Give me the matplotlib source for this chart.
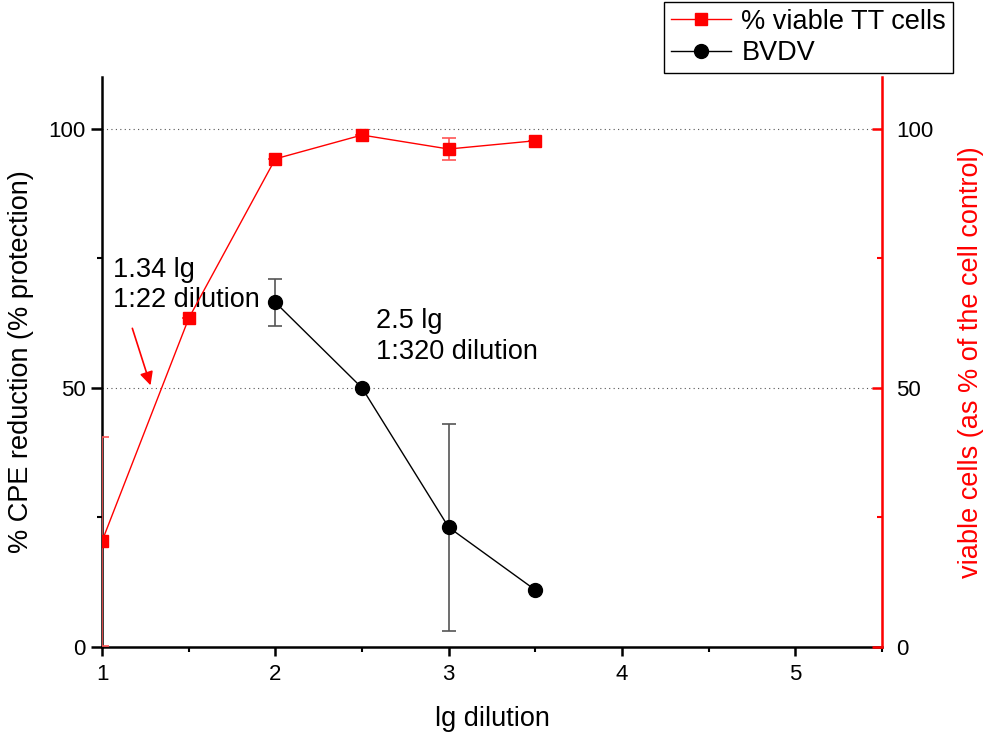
import matplotlib
matplotlib.use("Agg")
import matplotlib.pyplot as plt
from matplotlib.ticker import MultipleLocator
from matplotlib.lines import Line2D

plt.rcParams['font.family'] = ['Liberation Sans', 'DejaVu Sans']

# Data
x_cells = [1.0, 1.5, 2.0, 2.5, 3.0, 3.5]
viable_cells = [20.4, 63.4, 94.2, 98.8, 96.1, 97.7]
viable_err = [20.2, 0.0, 0.0, 0.0, 2.2, 0.0]

x_virus = [2.0, 2.5, 3.0, 3.5]
bvdv = [66.5, 50.0, 23.1, 11.0]
bvdv_err = [4.6, 0.0, 20.0, 0.0]

x_ticks = [1, 2, 3, 4, 5]
y_ticks = [0, 50, 100]

fig = plt.figure(figsize=(9.9, 7.33), dpi=100)
ax = fig.add_axes([102/990, 1-647/733, (882-102)/990, (647-77)/733])
ax2 = ax.twinx()

ax.set_xlim(1, 5.5)
ax.set_ylim(0, 110)
ax2.set_ylim(0, 110)

# grid lines
for g in [50, 100]:
    ax.axhline(g, color='#555555', linestyle=(0, (1, 3)), linewidth=0.8, zorder=0)

ax.errorbar(x_virus, bvdv, yerr=bvdv_err, color='black', marker='o',
            markersize=10, linewidth=1, ecolor='#555555', elinewidth=1.2,
            capsize=5, capthick=1.2, zorder=3)
ax2.errorbar(x_cells, viable_cells, yerr=viable_err, color='red', marker='s',
             markersize=9, linewidth=1, ecolor='#ff5555', elinewidth=1.2,
             capsize=5, capthick=1.2, zorder=3)

# spines
for a in (ax, ax2):
    a.spines['top'].set_visible(False)
ax.spines['left'].set_linewidth(1.8)
ax.spines['bottom'].set_linewidth(1.8)
ax2.spines['right'].set_color('red')
ax2.spines['right'].set_linewidth(1.8)
ax2.spines['left'].set_visible(False)
ax2.spines['bottom'].set_visible(False)

ax.set_xticks(x_ticks)
ax.set_yticks(y_ticks)
ax2.set_yticks(y_ticks)
ax.xaxis.set_minor_locator(MultipleLocator(0.5))
ax.yaxis.set_minor_locator(MultipleLocator(25))
ax2.yaxis.set_minor_locator(MultipleLocator(25))

ax.tick_params(axis='x', which='major', direction='out', length=6.5, width=1.8,
               labelsize=16, pad=6)
ax.tick_params(axis='y', which='major', direction='out', length=8, width=1.8,
               labelsize=16, pad=4)
ax.tick_params(axis='both', which='minor', direction='out', length=3.5, width=1.5)
ax2.tick_params(axis='y', which='major', direction='in', length=7, width=1.8,
                color='red', labelsize=16, labelcolor='black', pad=10)
ax2.tick_params(axis='y', which='minor', direction='in', length=3.6, width=1.5, color='red')

ax.set_xlabel('lg dilution', fontsize=19.5, labelpad=15)
ax.set_ylabel('% CPE reduction (% protection)', fontsize=19.5, labelpad=10)
ax2.set_ylabel('viable cells (as % of the cell control)', fontsize=19.5,
               color='red', rotation=90, labelpad=18)

# annotations
ax.text(1.065, 69.8, '1.34 lg\n1:22 dilution', fontsize=19.5, va='center', ha='left',
        linespacing=1.2)
ax.text(2.58, 60.0, '2.5 lg\n1:320 dilution', fontsize=19.5, va='center', ha='left',
        linespacing=1.25)
ax.annotate('', xy=(1.28, 50.5), xytext=(1.175, 61.5),
            arrowprops=dict(arrowstyle='-|>', color='red', lw=1.2,
                            mutation_scale=20, shrinkA=0, shrinkB=0))

h_red = Line2D([], [], color='red', marker='s', markersize=9, linewidth=1)
h_blk = Line2D([], [], color='black', marker='o', markersize=10, linewidth=1)
leg = fig.legend(handles=[h_red, h_blk], labels=['% viable TT cells', 'BVDV'],
                 loc='upper right', bbox_to_anchor=(953/990, 1-2/733),
                 fontsize=19.5, frameon=True, fancybox=False, framealpha=1,
                 edgecolor='black', borderaxespad=0, handlelength=2.2,
                 labelspacing=0.2, borderpad=0.25, handletextpad=0.4)
leg.get_frame().set_linewidth(1.0)

fig.savefig('out.png', dpi=100)
